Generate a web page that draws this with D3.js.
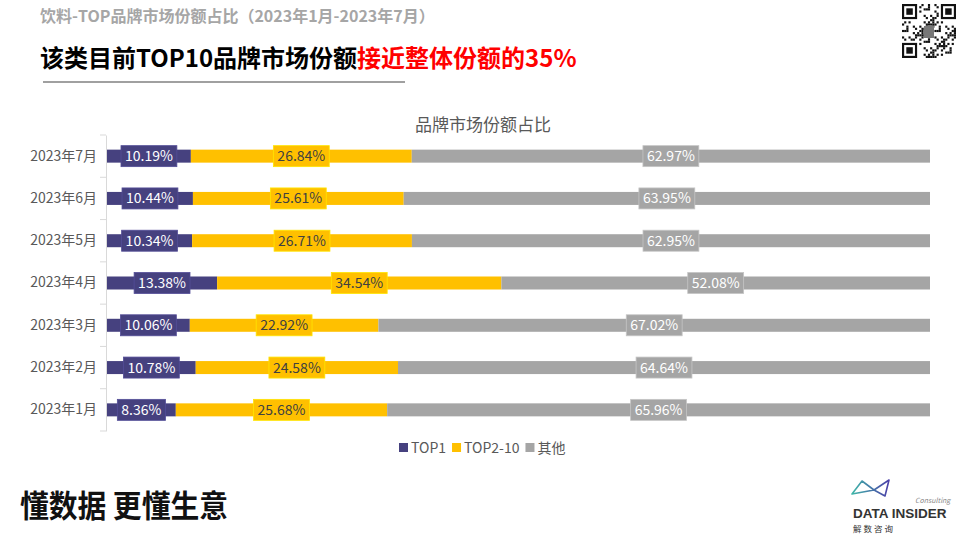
<!DOCTYPE html>
<html><head><meta charset="utf-8">
<script src="https://cdn.jsdelivr.net/npm/d3@7/dist/d3.min.js"></script>
<style>body{margin:0;background:#fff}svg{display:block;font-family:"Microsoft YaHei","Noto Sans CJK SC","Noto Sans",sans-serif}</style>
</head><body><svg id="c" width="960" height="540"></svg>
<script>
const months = ["2023年7月","2023年6月","2023年5月","2023年4月","2023年3月","2023年2月","2023年1月"];
const seriesNames = ["TOP1","TOP2-10","其他"];
const top1 = [10.19,10.44,10.34,13.38,10.06,10.78,8.36];
const top2to10 = [26.84,25.61,26.71,34.54,22.92,24.58,25.68];
const others = [62.97,63.95,62.95,52.08,67.02,64.64,65.96];
const colors = ["#46417F","#FFC000","#A5A5A5"];
const labelColors = ["#ffffff","#404040","#ffffff"];

const svg = d3.select("#c");
const font = '"Microsoft YaHei","Noto Sans CJK SC",sans-serif';

// header
svg.append("text").attr("x",40).attr("y",22).attr("font-size",16).attr("font-weight","bold")
  .attr("fill","#A6A6A6").attr("font-family",font).text("饮料-TOP品牌市场份额占比（2023年1月-2023年7月）");
const h = svg.append("text").attr("x",40).attr("y",67).attr("font-size",24).attr("font-weight","bold")
  .attr("font-family",font);
h.append("tspan").attr("fill","#000").text("该类目前TOP10品牌市场份额");
h.append("tspan").attr("fill","#FF0000").text("接近整体份额的35%");
svg.append("line").attr("x1",43).attr("x2",405).attr("y1",82).attr("y2",82).attr("stroke","#808080").attr("stroke-width",1.5);

// chart
const x = d3.scaleLinear().domain([0,100]).range([107,930]);
const y = d3.scaleBand().domain(months).range([135,431]);
svg.append("text").attr("x",483).attr("y",131).attr("text-anchor","middle").attr("font-size",17)
  .attr("fill","#595959").attr("font-family",font).text("品牌市场份额占比");

const yAxis = svg.append("g").attr("transform","translate(106,0)")
  .call(d3.axisLeft(y).tickSize(0).tickPadding(9));
yAxis.select(".domain").attr("stroke","#D9D9D9");
yAxis.selectAll("text").attr("font-size",14).attr("fill","#595959").attr("font-family",font);
// band boundary ticks
const bounds = months.map(m=>y(m)).concat([y(months[months.length-1])+y.bandwidth()]);
svg.append("g").selectAll("line").data(bounds).join("line")
  .attr("x1",100).attr("x2",106).attr("y1",d=>d).attr("y2",d=>d).attr("stroke","#D9D9D9");

const rows = months.map((m,i)=>({m, vals:[top1[i],top2to10[i],others[i]]}));
const barH = 13;
rows.forEach(r=>{
  let acc = 0;
  const cy = y(r.m)+y.bandwidth()/2;
  const segs = r.vals.map((v,k)=>{const s={k,v,x0:acc,x1:acc+v}; acc+=v; return s;});
  const g = svg.append("g");
  g.selectAll("rect").data(segs).join("rect")
    .attr("x",d=>x(d.x0)).attr("width",d=>x(d.x1)-x(d.x0))
    .attr("y",cy-barH/2).attr("height",barH).attr("fill",d=>colors[d.k]);
  segs.forEach(d=>{
    const cx = (x(d.x0)+x(d.x1))/2;
    const t = g.append("text").attr("x",cx).attr("y",cy+5).attr("text-anchor","middle")
      .attr("font-size",14).attr("fill",labelColors[d.k]).attr("font-family",font).text(d.v.toFixed(2)+"%");
    const w = t.node().getComputedTextLength();
    g.insert("rect", () => t.node()).attr("x",cx-w/2-4).attr("width",w+8).attr("y",cy-10.5).attr("height",21)
      .attr("fill",colors[d.k]).attr("stroke",d3.color(colors[d.k]).brighter(0.5)).attr("stroke-width",0.8);
  });
});

// legend
const legend = svg.append("g").attr("transform","translate(0,448)");
let lx = 399;
seriesNames.forEach((n,i)=>{
  legend.append("rect").attr("x",lx).attr("y",-5).attr("width",9).attr("height",9).attr("fill",colors[i]);
  const t = legend.append("text").attr("x",lx+12).attr("y",5).attr("font-size",14).attr("fill","#595959")
    .attr("font-family",font).text(n);
  lx += 12 + t.node().getComputedTextLength() + 6;
});

// footer slogan
svg.append("text").attr("x",20).attr("y",517).attr("font-size",31).attr("font-weight","bold")
  .attr("fill","#111").attr("font-family",font).attr("textLength",208).attr("lengthAdjust","spacingAndGlyphs").text("懂数据 更懂生意");

// logo
const logo = svg.append("g");
const grad = svg.append("defs").append("linearGradient").attr("id","lg").attr("x1","0").attr("x2","1");
grad.append("stop").attr("offset","0").attr("stop-color","#3FB6A8");
grad.append("stop").attr("offset","1").attr("stop-color","#4B3FA8");
logo.append("path").attr("d","M852,494 L862,481 L874,490 L889,480 L885,496 L874,490 Z")
  .attr("fill","none").attr("stroke","url(#lg)").attr("stroke-width",1.6).attr("stroke-linejoin","round");
logo.append("text").attr("x",915).attr("y",503).attr("font-size",7).attr("font-style","italic").attr("fill","#888").text("Consulting");
logo.append("text").attr("x",853).attr("y",518).attr("font-size",13.5).attr("font-weight","bold").attr("fill","#333")
  .attr("font-family","'Liberation Sans',sans-serif").text("DATA INSIDER");
logo.append("text").attr("x",853).attr("y",532).attr("font-size",8.5).attr("fill","#333").attr("font-family",font)
  .attr("letter-spacing",2).text("解数咨询");

// QR decoration
const qr = svg.append("g").attr("transform","translate(902,4)");
const N=25, cs=54/N;
const cells=[];
for(let r=0;r<N;r++)for(let c=0;c<N;c++){
  const inF=(r<8&&c<8)||(r<8&&c>=N-8)||(r>=N-8&&c<8);
  if(inF) continue;
  if(((r*7+c*13+(r*c)%5)%3)===0) cells.push([r,c]);
}
qr.selectAll("rect.c").data(cells).join("rect").attr("x",d=>d[1]*cs).attr("y",d=>d[0]*cs)
  .attr("width",cs).attr("height",cs).attr("fill","#111");
[[0,0],[0,N-7],[N-7,0]].forEach(([r,c])=>{
  qr.append("rect").attr("x",c*cs+cs/2).attr("y",r*cs+cs/2).attr("width",6*cs).attr("height",6*cs).attr("fill","none").attr("stroke","#111").attr("stroke-width",cs);
  qr.append("rect").attr("x",(c+2)*cs).attr("y",(r+2)*cs).attr("width",3*cs).attr("height",3*cs).attr("fill","#111");
});
qr.append("rect").attr("x",22).attr("y",22).attr("width",10).attr("height",12).attr("fill","#777");
</script></body></html>
